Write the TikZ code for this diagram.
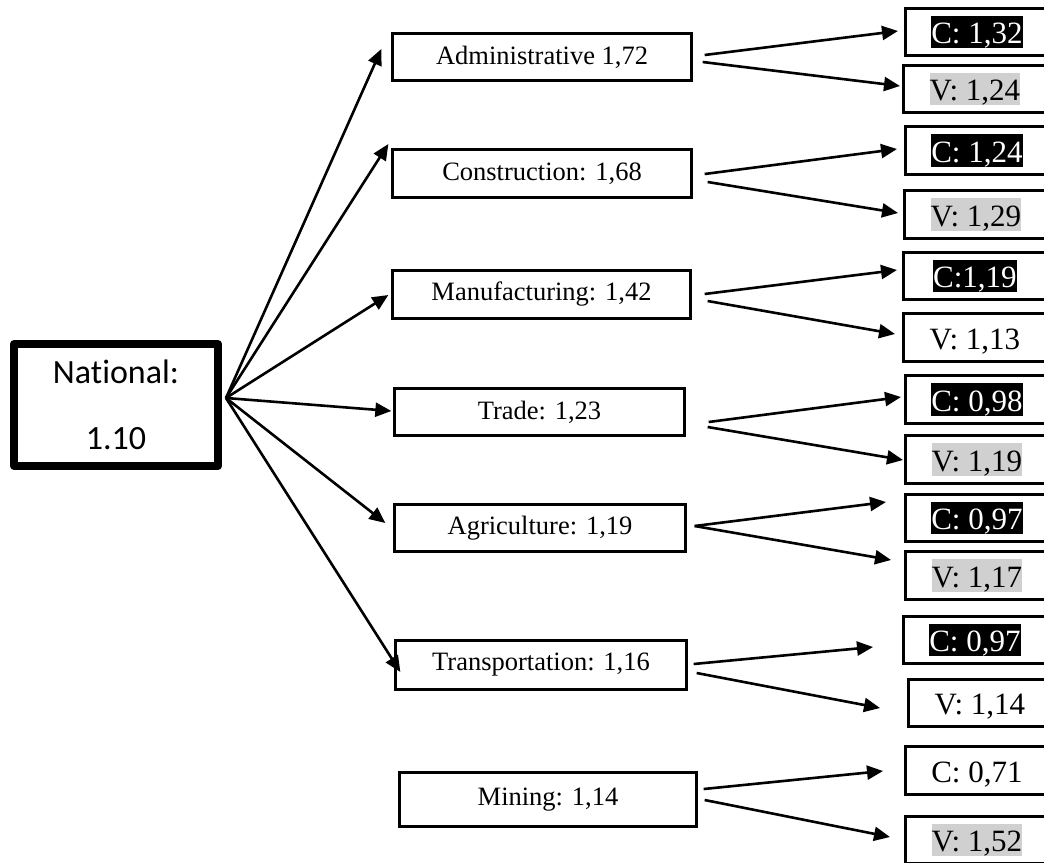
\documentclass[tikz,border=0pt]{standalone}
\usepackage{fontspec}
\setmainfont{Liberation Serif}
\newfontfamily\calibri[Ligatures=NoCommon]{Carlito}
\usepackage{xcolor}
\usetikzlibrary{arrows.meta,positioning}
\definecolor{lightmark}{RGB}{208,208,208}
\newcommand{\darkhl}[1]{{\setlength{\fboxsep}{0pt}\colorbox{black}{\textcolor{white}{\vrule height .9em depth .1em width 0pt #1}}}}
\newcommand{\lighthl}[1]{{\setlength{\fboxsep}{0pt}\colorbox{lightmark}{\vrule height .9em depth .1em width 0pt #1}}}
\newcommand{\nohl}[1]{{\vrule height .9em depth .1em width 0pt #1}}

\begin{document}
\begin{tikzpicture}[x=1pt, y=-1pt,
    natbox/.style={draw, line width=8pt, line join=round, minimum width=204pt, minimum height=122pt, align=center, font=\calibri\fontsize{34}{66}\selectfont},
    sector/.style={draw, line width=3.3pt, minimum width=299pt, minimum height=47pt, inner sep=0pt, font=\fontsize{26.5}{32}\selectfont},
    result/.style={draw, line width=2.8pt, anchor=west, minimum width=143pt, minimum height=47.3pt, inner sep=0pt, font=\fontsize{31}{37}\selectfont},
    link/.style={line width=2.6pt, -{Triangle[length=16pt,width=14pt]}}]
    \useasboundingbox (0,0) rectangle (1044,862);
    \clip (0,0) rectangle (1044,862);

    % National box
    \node [natbox] (nat) at (116,405) {National:\\1.10};
    \coordinate (hub) at ([shift={(4,-7)}]nat.east);

    % Sector boxes
    \node [sector] (adm) at (542,57) {Administrative 1,72};
    \node [sector, minimum height=48pt] (con) at (542,173.5) {Construction: 1,68};
    \node [sector, minimum width=298pt, minimum height=48pt] (man) at (541.5,294.5) {Manufacturing: 1,42};
    \node [sector, minimum width=290pt] (tra) at (539.5,412) {Trade: 1,23};
    \node [sector, minimum width=291pt] (agr) at (540,528) {Agriculture: 1,19};
    \node [sector, minimum width=291pt, minimum height=49pt] (trp) at (541,665) {Transportation: 1,16};
    \node [sector, minimum width=297pt, minimum height=54pt] (mng) at (548,799.5) {Mining: 1,14};

    % C / V boxes
    \node [result] (c1) at (904,32) {\darkhl{C: 1,32}};
    \node [result] (v1) at (902,89) {\lighthl{V: 1,24}};
    \node [result] (c2) at (904,150.5) {\darkhl{C: 1,24}};
    \node [result] (v2) at (903,214.5) {\lighthl{V: 1,29}};
    \node [result] (c3) at (902,276) {\darkhl{C:1,19}};
    \node [result] (v3) at (902,337.5) {\nohl{V: 1,13}};
    \node [result] (c4) at (904,399.5) {\darkhl{C: 0,98}};
    \node [result] (v4) at (904,459.5) {\lighthl{V: 1,19}};
    \node [result] (c5) at (904,518) {\darkhl{C: 0,97}};
    \node [result] (v5) at (904,575.5) {\lighthl{V: 1,17}};
    \node [result] (c6) at (902,640) {\darkhl{C: 0,97}};
    \node [result] (v6) at (907,703) {\nohl{V: 1,14}};
    \node [result] (c7) at (904,770.5) {\nohl{C: 0,71}};
    \node [result] (v7) at (904,840) {\lighthl{V: 1,52}};

    % Arrows from National
    \draw [link] (hub) -- ([shift={(-9.5,-8)}]adm.west);
    \draw [link] (hub) -- ([shift={(-2.5,-29.5)}]con.west);
    \draw [link] (hub) -- ([shift={(-2.5,0.5)}]man.west);
    \draw [link] (hub) -- ([shift={(-1.5,-1)}]tra.west);
    \draw [link] (hub) -- ([shift={(-7.5,-5)}]agr.west);
    \draw [link] (hub) -- ([shift={(6.5,7)}]trp.west);

    % Arrows to C and V
    \draw [link] ([shift={(11.5,-2)}]adm.east) -- ([shift={(-6,-1)}]c1.west);
    \draw [link] ([shift={(9.5,5)}]adm.east) -- ([shift={(-2,-3)}]v1.west);
    \draw [link] ([shift={(11.5,0.5)}]con.east) -- ([shift={(-7,-1.5)}]c2.west);
    \draw [link] ([shift={(14.5,8.5)}]con.east) -- ([shift={(-5,-1.5)}]v2.west);
    \draw [link] ([shift={(12.5,-0.5)}]man.east) -- ([shift={(-5,-6)}]c3.west);
    \draw [link] ([shift={(15.5,6.5)}]man.east) -- ([shift={(-7,-3.5)}]v3.west);
    \draw [link] ([shift={(22.5,10)}]tra.east) -- ([shift={(-3,-2.5)}]c4.west);
    \draw [link] ([shift={(21.5,15)}]tra.east) -- ([shift={(-1,0.5)}]v4.west);
    \draw [link] ([shift={(7.5,-2)}]agr.east) -- ([shift={(-18,-16)}]c5.west);
    \draw [link] ([shift={(7.5,-2)}]agr.east) -- ([shift={(-13,-15.5)}]v5.west);
    \draw [link] ([shift={(5.5,-1)}]trp.east) -- ([shift={(-29,7)}]c6.west);
    \draw [link] ([shift={(8.5,8)}]trp.east) -- ([shift={(-27,5)}]v6.west);
    \draw [link] ([shift={(5.5,-10.5)}]mng.east) -- ([shift={(-21,0.5)}]c7.west);
    \draw [link] ([shift={(6.5,0.5)}]mng.east) -- ([shift={(-14,-3)}]v7.west);
\end{tikzpicture}
\end{document}
